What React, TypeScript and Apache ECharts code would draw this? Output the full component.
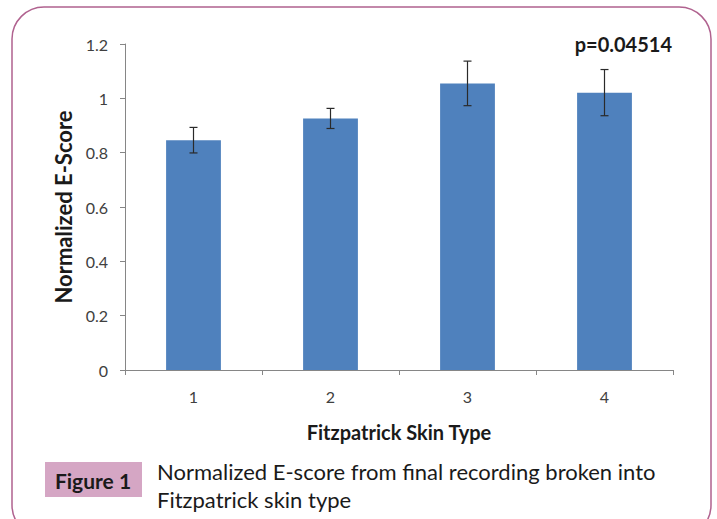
import React, { useEffect, useRef } from "react";
import * as echarts from "echarts";

const categories = ["1", "2", "3", "4"];
const means = [0.846, 0.926, 1.055, 1.021];
const errors = [0.047, 0.037, 0.082, 0.085];
const yTicks = [0, 0.2, 0.4, 0.6, 0.8, 1, 1.2];
const pText = "p=0.04514";
const xTitle = "Fitzpatrick Skin Type";
const yTitle = "Normalized E-Score";
const figLabel = "Figure 1";
const captionLines = ["Normalized E-score from final recording broken into", "Fitzpatrick skin type"];

const FONT = "Lato, 'Open Sans', sans-serif";

export default function App() {
  const ref = useRef<HTMLDivElement>(null);
  useEffect(() => {
    if (!ref.current) return;
    const chart = echarts.init(ref.current, undefined, { renderer: "svg" });
    const errData = categories.map((_, i) => [i, means[i] - errors[i], means[i] + errors[i]]);
    chart.setOption({
      animation: false,
      backgroundColor: "#ffffff",
      textStyle: { fontFamily: FONT },
      grid: { left: 125, top: 44, right: 44, bottom: 149, containLabel: false },
      xAxis: {
        type: "category",
        data: categories,
        boundaryGap: true,
        axisLine: { lineStyle: { color: "#868686", width: 1 } },
        axisTick: { show: true, alignWithLabel: false, length: 5, lineStyle: { color: "#868686" } },
        axisLabel: { color: "#404040", fontSize: 16, margin: 18, fontFamily: FONT },
        name: xTitle,
        nameLocation: "middle",
        nameGap: 52,
        nameTextStyle: { color: "#1a1a1a", fontSize: 20, fontWeight: "bold", fontFamily: FONT },
      },
      yAxis: {
        type: "value",
        min: yTicks[0],
        max: yTicks[yTicks.length - 1],
        interval: 0.2,
        axisLine: { show: true, lineStyle: { color: "#868686", width: 1 } },
        axisTick: { show: true, length: 5, lineStyle: { color: "#868686" } },
        splitLine: { show: false },
        axisLabel: {
          color: "#404040",
          fontSize: 16,
          margin: 17,
          fontFamily: FONT,
          formatter: (v: number) => String(Math.round(v * 10) / 10),
        },
        name: yTitle,
        nameLocation: "middle",
        nameGap: 44,
        nameRotate: 90,
        nameTextStyle: { color: "#1a1a1a", fontSize: 22, fontWeight: "bold", fontFamily: FONT },
      },
      series: [
        {
          type: "bar",
          data: means,
          barWidth: "40%",
          itemStyle: { color: "#4F81BD" },
        },
        {
          type: "custom",
          data: errData,
          z: 10,
          renderItem: (params: any, api: any) => {
            const x = api.value(0);
            const lo = api.coord([x, api.value(1)]);
            const hi = api.coord([x, api.value(2)]);
            const cap = 4;
            const style = { stroke: "#2a2a2a", lineWidth: 1.2 };
            return {
              type: "group",
              children: [
                { type: "line", shape: { x1: lo[0], y1: lo[1], x2: hi[0], y2: hi[1] }, style },
                { type: "line", shape: { x1: hi[0] - cap, y1: hi[1], x2: hi[0] + cap, y2: hi[1] }, style },
                { type: "line", shape: { x1: lo[0] - cap, y1: lo[1], x2: lo[0] + cap, y2: lo[1] }, style },
              ],
            };
          },
        },
      ],
      graphic: [
        {
          type: "rect",
          shape: { x: 12, y: 7, width: 699, height: 530, r: 32 },
          style: { fill: "none", stroke: "#b0628f", lineWidth: 1.5 },
          z: -1,
        },
        {
          type: "text",
          right: 45,
          top: 34,
          style: { text: pText, fontSize: 20, fontWeight: "bold", fill: "#1a1a1a", fontFamily: FONT },
        },
        {
          type: "rect",
          shape: { x: 45, y: 462, width: 97, height: 35 },
          style: { fill: "#d5a6c4" },
        },
        {
          type: "text",
          x: 93,
          y: 480,
          style: {
            text: figLabel,
            fontSize: 21,
            fontWeight: "bold",
            fill: "#1a1a1a",
            align: "center",
            verticalAlign: "middle",
            fontFamily: FONT,
          },
        },
        {
          type: "text",
          x: 157,
          y: 471,
          style: {
            text: captionLines[0],
            fontSize: 22,
            fill: "#1a1a1a",
            verticalAlign: "middle",
            fontFamily: FONT,
          },
        },
        {
          type: "text",
          x: 157,
          y: 499,
          style: {
            text: captionLines[1],
            fontSize: 22,
            fill: "#1a1a1a",
            verticalAlign: "middle",
            fontFamily: FONT,
          },
        },
      ],
    });
    return () => chart.dispose();
  }, []);
  return <div ref={ref} style={{ position: "fixed", left: 0, top: 0, width: 717, height: 519 }} />;
}
